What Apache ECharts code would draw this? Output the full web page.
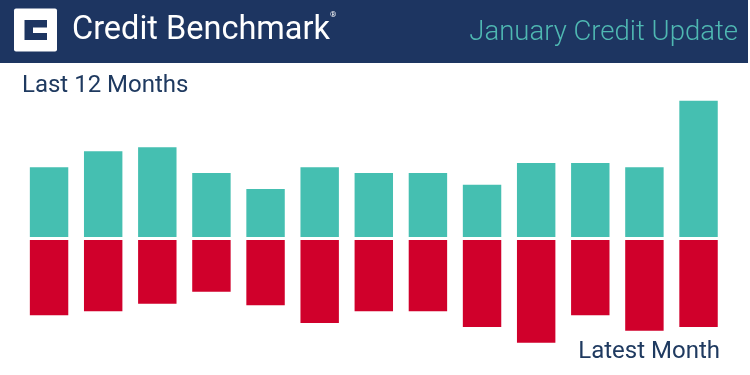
<!DOCTYPE html>
<html>
<head>
<meta charset="utf-8">
<script src="https://cdn.jsdelivr.net/npm/echarts@6/dist/echarts.min.js"></script>
<style>
html,body{margin:0;padding:0;background:#fff;}
#chart{width:750px;height:375px;}
</style>
</head>
<body>
<div id="chart"></div>
<script>
var months = ['Jan','Feb','Mar','Apr','May','Jun','Jul','Aug','Sep','Oct','Nov','Dec','Jan '];
var upgrades = [69.7, 85.7, 89.7, 64, 48, 69.7, 64, 64, 52.3, 74, 74, 69.7, 136.3];
var downgrades = [75.3, 71.3, 63.7, 51.7, 65.3, 83, 71.3, 71.3, 87, 102.7, 75.3, 90.7, 87];
var upMax = 137;
var downMax = 110;

var NAVY = '#1d3561';
var TEAL = '#45bfb1';
var RED = '#d0002b';

var chart = echarts.init(document.getElementById('chart'), null, {renderer: 'canvas'});
chart.setOption({
  animation: false,
  backgroundColor: '#ffffff',
  grid: [
    {left: 22, right: 24.4, top: 100, bottom: 138},
    {left: 22, right: 24.4, top: 240, bottom: 25}
  ],
  xAxis: [
    {type: 'category', gridIndex: 0, data: months, show: false},
    {type: 'category', gridIndex: 1, data: months, show: false}
  ],
  yAxis: [
    {type: 'value', gridIndex: 0, min: 0, max: upMax, show: false},
    {type: 'value', gridIndex: 1, min: 0, max: downMax, inverse: true, show: false}
  ],
  series: [
    {type: 'bar', xAxisIndex: 0, yAxisIndex: 0, data: upgrades, barCategoryGap: '29%',
     itemStyle: {color: TEAL}},
    {type: 'bar', xAxisIndex: 1, yAxisIndex: 1, data: downgrades, barCategoryGap: '29%',
     itemStyle: {color: RED}}
  ],
  graphic: [
    {type: 'rect', left: 0, top: 0, z: 0, shape: {x: 0, y: 0, width: 748, height: 63}, style: {fill: NAVY}},
    {type: 'rect', z: 1, shape: {x: 14, y: 8.5, width: 43, height: 43, r: 2}, style: {fill: '#ffffff'}},
    {type: 'rect', z: 2, shape: {x: 24.5, y: 20, width: 22.5, height: 20}, style: {fill: NAVY}},
    {type: 'rect', z: 3, shape: {x: 33, y: 27.5, width: 14, height: 5.5}, style: {fill: '#ffffff'}},
    {type: 'text', z: 2, x: 72, y: 31, style: {text: 'Credit Benchmark', fill: '#ffffff', font: '400 32.5px Roboto', textVerticalAlign: 'middle'}},
    {type: 'text', z: 2, x: 330, y: 15, style: {text: '®', fill: '#ffffff', font: '400 8px Roboto', textVerticalAlign: 'middle'}},
    {type: 'text', z: 2, x: 738, y: 33, style: {text: 'January Credit Update', fill: '#4fb8b2', font: '300 27.5px Roboto', textAlign: 'right', textVerticalAlign: 'middle'}},
    {type: 'text', z: 2, x: 22, y: 86, style: {text: 'Last 12 Months', fill: '#1f3a60', font: '400 24px Roboto', textVerticalAlign: 'middle'}},
    {type: 'text', z: 2, x: 720, y: 352, style: {text: 'Latest Month', fill: '#1f3a60', font: '400 24px Roboto', textAlign: 'right', textVerticalAlign: 'middle'}}
  ]
});
</script>
</body>
</html>
